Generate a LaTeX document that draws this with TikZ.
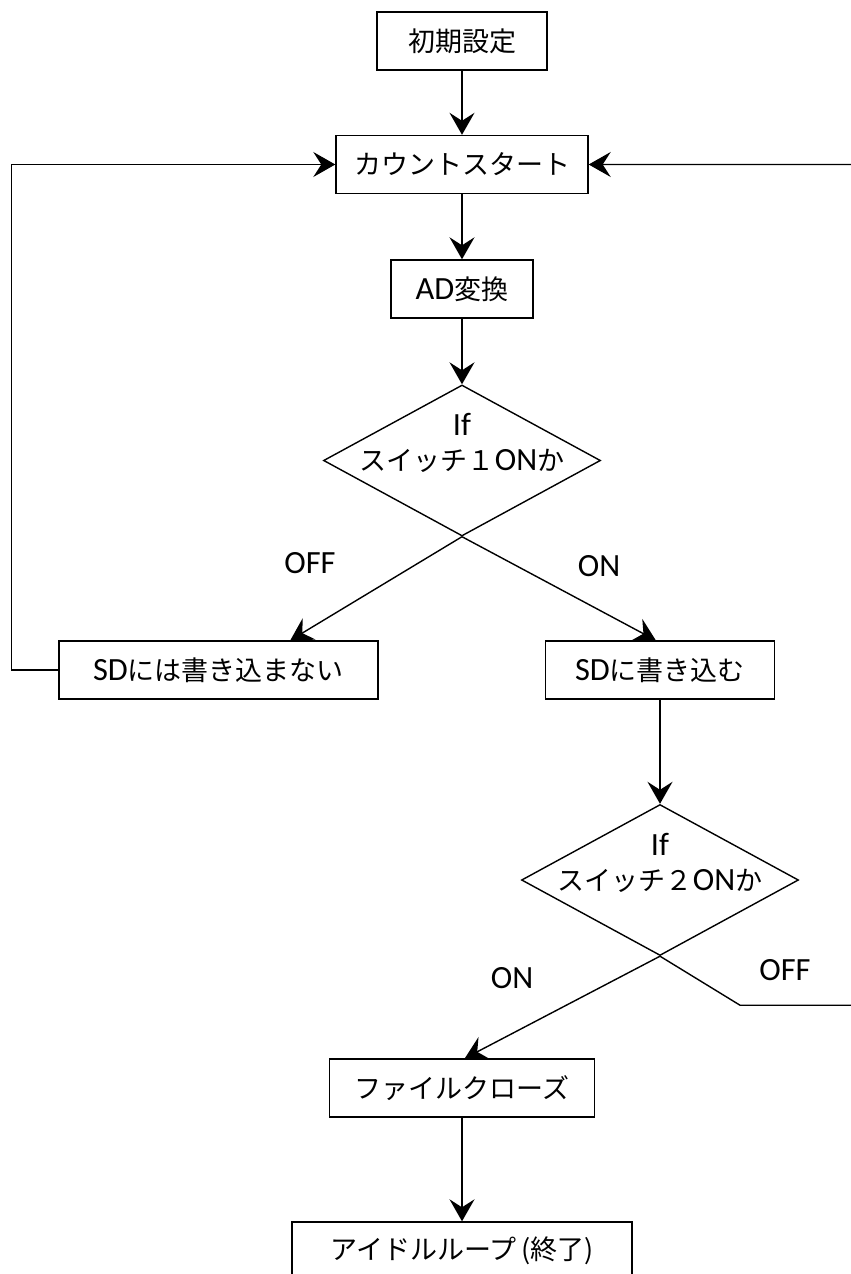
\documentclass[tikz,border=0pt]{standalone}
\usepackage{fontspec}
\setmainfont[Scale=1.2]{Carlito}
\newfontfamily\jp{Noto Sans CJK JP}
\usetikzlibrary{arrows.meta,shapes.geometric,calc}
\begin{document}
\begin{tikzpicture}[x=1pt,y=-1pt,
  box/.style={draw,line width=1.4pt,inner sep=0pt,minimum height=58pt,font=\fontsize{27}{32}\selectfont},
  dia/.style={draw,shape=diamond,line width=1.4pt,inner sep=0pt,minimum width=277pt,minimum height=151pt},
  diatext/.style={align=center,inner sep=0pt,font=\fontsize{27}{35}\selectfont},
  con/.style={line width=1.4pt,-{Stealth[length=22pt,width=25pt,inset=8pt]}},
  lbl/.style={inner sep=0pt,font=\fontsize{27}{32}\selectfont}]
\useasboundingbox (0,0) rectangle (851,1274);
\begin{scope}
\clip (0,0) rectangle (851,1274);
\node[box,minimum width=170pt] (init) at (462,41) {\jp 初期設定};
\node[box,minimum width=252pt] (count) at (462,164.5) {\jp カウントスタート};
\node[box,minimum width=142pt] (ad) at (462,289) {AD{\jp 変換}};
\node[dia] (d1) at (462,460.5) {};
\node[diatext] (d1t) at (462,443) {If\\{\jp スイッチ１}ON{\jp か}};
\node[box,minimum width=319pt] (sdno) at (218.5,670) {SD{\jp には書き込まない}};
\node[box,minimum width=229pt] (sdyes) at (660,670) {SD{\jp に書き込む}};
\node[dia] (d2) at (660,880) {};
\node[diatext] (d2t) at (660,863) {If\\{\jp スイッチ２}ON{\jp か}};
\node[box,minimum width=265pt] (close) at (462,1088) {\jp ファイルクローズ};
\node[box,minimum width=340pt] (idle) at (462,1251) {\jp アイドルループ\,(終了)};

\node[lbl] (l1) at (310,563) {OFF};
\node[lbl] (l2) at (599,566) {ON};
\node[lbl] (l3) at (512,978) {ON};
\node[lbl] (l4) at (785,970) {OFF};

\draw[con] (init.south) -- (count.north);
\draw[con] (count.south) -- (ad.north);
\draw[con] (ad.south) -- (d1.north);
\draw[con] (d1.south) -- ([xshift=232pt]sdno.north west);
\draw[con] (d1.south) -- ([xshift=111pt]sdyes.north west);
\draw[con] (sdno.west) -- ++(-47,0) |- (count.west);
\draw[con] (sdyes.south) -- (d2.north);
\draw[con] (d2.south) -- ([xshift=136pt]close.north west);
\draw[con] (d2.south) -- ++(80,49) -- ++(200,0) |- (count.east);
\draw[con] (close.south) -- (idle.north);
\end{scope}
\end{tikzpicture}
\end{document}
